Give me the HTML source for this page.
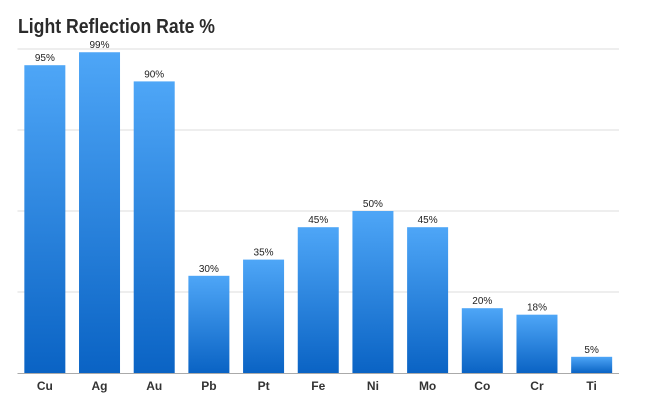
<!DOCTYPE html>
<html><head><meta charset="utf-8"><style>
body{margin:0;background:#fff;}
svg{display:block;font-family:"Liberation Sans",sans-serif;}
</style></head><body>
<svg id="chart" width="650" height="410">
<defs><linearGradient id="g" x1="0" y1="0" x2="0" y2="1"><stop offset="0" stop-color="#4ea6f7"/><stop offset="1" stop-color="#0a63c4"/></linearGradient></defs>
<text x="18" y="33" font-size="20" font-weight="bold" fill="#2b2b2b" textLength="197" lengthAdjust="spacingAndGlyphs">Light Reflection Rate %</text>
<g id="grid"></g><g id="bars"></g>
</svg>
<script>
const categories=["Cu","Ag","Au","Pb","Pt","Fe","Ni","Mo","Co","Cr","Ti"];
const values=[95,99,90,30,35,45,50,45,20,18,5];
const valueLabels=["95%","99%","90%","30%","35%","45%","50%","45%","20%","18%","5%"];
const gridTicks=[25,50,75,100];
const ns="http://www.w3.org/2000/svg";
const x0=17.5,x1=619,y0=373,yTop=49,maxV=100;
const band=(x1-x0)/categories.length,bw=41;
const y=v=>y0-(v/maxV)*(y0-yTop);
const xc=i=>x0+band*(i+0.5);
const grid=document.getElementById('grid'),bars=document.getElementById('bars');
function mk(t,a){const e=document.createElementNS(ns,t);for(const k in a)e.setAttribute(k,a[k]);return e;}
gridTicks.forEach(t=>{const l=mk('line',{x1:x0,x2:x1,y1:y(t),y2:y(t),stroke:'#dcdcdc','stroke-width':1});


grid.appendChild(l);});
const ax=mk('line',{x1:x0,x2:x1,y1:y0+0.5,y2:y0+0.5,stroke:'#aaa','stroke-width':1});


grid.appendChild(ax);
categories.forEach((c,i)=>{
const r=mk('rect',{x:xc(i)-bw/2,y:y(values[i]),width:bw,height:y0-y(values[i]),fill:'url(#g)'});


bars.appendChild(r);
const v=mk('text',{x:xc(i),y:y(values[i])-4,'text-anchor':'middle','font-size':10,fill:'#222'});
v.textContent=valueLabels[i];


bars.appendChild(v);
const t=mk('text',{x:xc(i),y:390,'text-anchor':'middle','font-size':12,'font-weight':'bold',fill:'#333'});
t.textContent=c;


bars.appendChild(t);
});
</script>
</body></html>
